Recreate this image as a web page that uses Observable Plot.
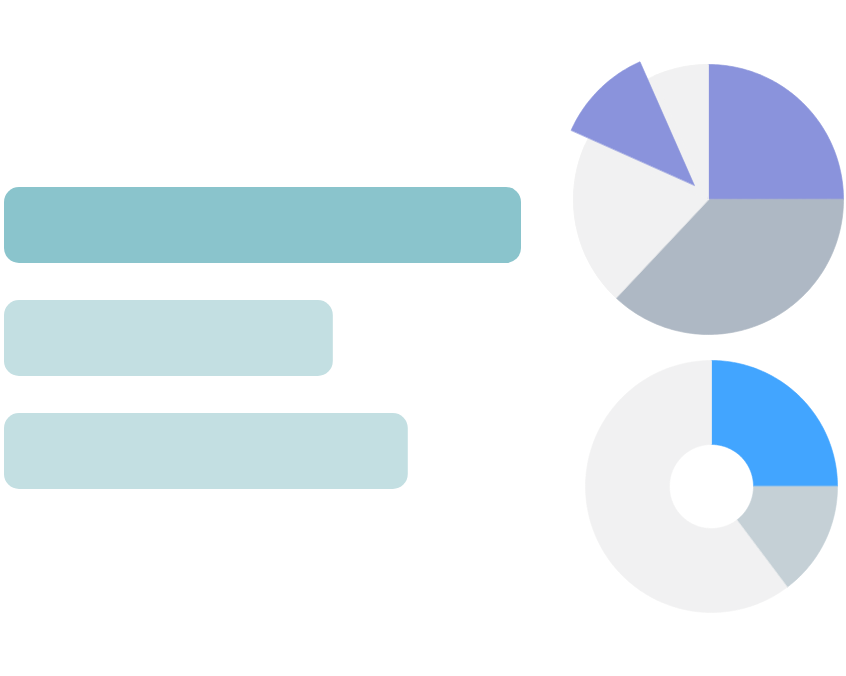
<!DOCTYPE html>
<html>
<head>
<meta charset="utf-8">
<script src="https://cdn.jsdelivr.net/npm/d3@7"></script>
<script src="https://cdn.jsdelivr.net/npm/@observablehq/plot@0.6"></script>
<style>
  html, body { margin: 0; padding: 0; background: #ffffff; }
  #chart { position: relative; width: 846px; height: 676px; overflow: hidden; }
  #chart > svg { position: absolute; left: 0; top: 0; }
</style>
</head>
<body>
<div id="chart"></div>
<script>
// ---- data ----
const barNames = ["A", "B", "C"];
const barValues = [100, 63.6, 78.1];
const barColors = ["#8AC4CC", "#C3DFE2", "#C3DFE2"];

const pieNames = ["a", "b", "c", "d", "e"];
const pieValues = [25, 37.0, 19.7, 11.7, 6.6];
const pieColors = ["#8A93DC", "#AEB8C4", "#F1F1F2", "#8A93DC", "#F1F1F2"];
const pieExploded = [false, false, false, true, false];

const donutNames = ["a", "b", "c"];
const donutValues = [25, 14.75, 60.25];
const donutColors = ["#42A5FF", "#C5D0D6", "#F1F1F2"];

// ---- layout (not data) ----
const W = 846, H = 676;
const pieLayout = {cx: 708, cy: 199, r: 135, inner: 0, explode: 20, bg: "#F1F1F2"};
const donutLayout = {cx: 711, cy: 486, r: 126, inner: 42, explode: 0, bg: null};

// ---- bars ----
const bars = barNames.map((name, i) => ({name, value: barValues[i], color: barColors[i]}));
const barPlot = Plot.plot({
  width: 521, height: H,
  marginLeft: 4, marginRight: 0, marginTop: 150, marginBottom: 150,
  x: {domain: [0, 100], axis: null},
  y: {domain: barNames, axis: null, padding: 0.327},
  color: {type: "identity"},
  style: {background: "transparent"},
  marks: [
    Plot.barX(bars, {x: "value", y: "name", fill: "color", rx: 15})
  ]
});

// ---- pies as polygons ----
function slicePolygons(names, values, colors, exploded, L) {
  const total = d3.sum(values);
  let acc = 0;
  const out = [];
  names.forEach((name, i) => {
    const a0 = acc / total * 2 * Math.PI;
    acc += values[i];
    const a1 = acc / total * 2 * Math.PI;
    const mid = (a0 + a1) / 2;
    const off = exploded && exploded[i] ? L.explode : 0;
    const cx = L.cx + off * Math.sin(mid);
    const cy = L.cy - off * Math.cos(mid);
    const n = Math.max(8, Math.ceil((a1 - a0) / (Math.PI / 180)));
    const pts = [];
    for (let k = 0; k <= n; k++) {
      const a = a0 + (a1 - a0) * k / n;
      pts.push({x: cx + L.r * Math.sin(a), y: cy - L.r * Math.cos(a)});
    }
    if (L.inner > 0) {
      for (let k = n; k >= 0; k--) {
        const a = a0 + (a1 - a0) * k / n;
        pts.push({x: cx + L.inner * Math.sin(a), y: cy - L.inner * Math.cos(a)});
      }
    } else {
      pts.push({x: cx, y: cy});
    }
    out.push({name, color: colors[i], pts});
  });
  return out;
}

function disk(L, color) {
  const pts = d3.range(0, 361).map(d => {
    const a = d * Math.PI / 180;
    return {x: L.cx + L.r * Math.sin(a), y: L.cy - L.r * Math.cos(a)};
  });
  return {name: "bg", color, pts};
}

const pieSlices = [disk(pieLayout, pieLayout.bg)].concat(
  slicePolygons(pieNames, pieValues, pieColors, pieExploded, pieLayout));
const donutSlices = slicePolygons(donutNames, donutValues, donutColors, null, donutLayout);

const sliceMark = s => Plot.line(s.pts, {
  x: "x", y: "y", fill: s.color, stroke: s.color, strokeWidth: 0.6,
  curve: "linear-closed"
});

const piePlot = Plot.plot({
  width: W, height: H,
  margin: 0,
  x: {type: "linear", domain: [0, W], range: [0, W], axis: null},
  y: {type: "linear", domain: [0, H], range: [0, H], axis: null},
  style: {background: "transparent"},
  marks: [
    ...pieSlices.map(sliceMark),
    ...donutSlices.map(sliceMark)
  ]
});

const root = document.getElementById("chart");
root.appendChild(barPlot);
root.appendChild(piePlot);
</script>
</body>
</html>
